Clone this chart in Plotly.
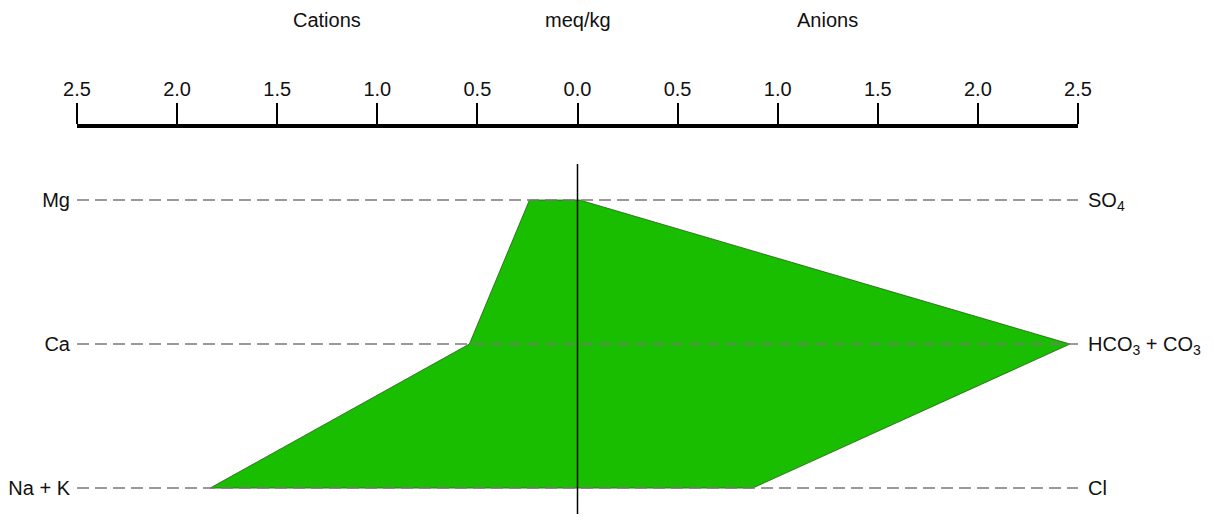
import plotly.graph_objects as go

# ---- data ----
cation_labels = ["Mg", "Ca", "Na + K"]
anion_labels = ["SO<sub>4</sub>", "HCO<sub>3</sub> + CO<sub>3</sub>", "Cl"]
cation_values = [0.24, 0.54, 1.835]   # meq/kg
anion_values = [0.01, 2.46, 0.875]    # meq/kg
row_positions = [0, 1, 2]
tick_values = [-2.5, -2.0, -1.5, -1.0, -0.5, 0.0, 0.5, 1.0, 1.5, 2.0, 2.5]
tick_labels = ["2.5", "2.0", "1.5", "1.0", "0.5", "0.0", "0.5", "1.0", "1.5", "2.0", "2.5"]
header_labels = ["Cations", "meq/kg", "Anions"]
header_positions = [-1.25, 0.0, 1.25]

FONT = "Liberation Sans, Arial, sans-serif"
TXT = "#111111"
FS = 20

fig = go.Figure()

# polygon (cations to the left, anions to the right)
poly_x = [-v for v in cation_values] + anion_values[::-1] + [-cation_values[0]]
poly_y = row_positions + row_positions[::-1] + [row_positions[0]]
fig.add_trace(go.Scatter(
    x=poly_x, y=poly_y, mode="lines", fill="toself",
    fillcolor="#1abe00", line=dict(color="#1f5f10", width=0.8),
    hoverinfo="skip", showlegend=False))

# dashed row guide lines
for r in row_positions:
    fig.add_trace(go.Scatter(
        x=[tick_values[0], tick_values[-1]], y=[r, r], mode="lines",
        line=dict(color="#7a7a7a", width=1.4, dash="12px,6px"),
        hoverinfo="skip", showlegend=False))

# centre line
fig.add_trace(go.Scatter(
    x=[0, 0], y=[-0.25, 2.4], mode="lines",
    line=dict(color="black", width=1.5),
    hoverinfo="skip", showlegend=False))

# invisible trace for right axis
fig.add_trace(go.Scatter(x=[0], y=[0], yaxis="y2", mode="markers",
                         marker=dict(opacity=0), hoverinfo="skip", showlegend=False))

for lab, xp in zip(header_labels, header_positions):
    fig.add_annotation(x=xp, xref="x", y=1.28, yref="paper", text=lab,
                       showarrow=False, xanchor="center", yanchor="middle",
                       font=dict(family=FONT, size=FS, color=TXT))

yrange = [2.18, -0.5]
fig.update_layout(
    width=1198, height=506,
    margin=dict(l=69, r=128, t=120, b=0, pad=0),
    paper_bgcolor="white", plot_bgcolor="white",
    font=dict(family=FONT, size=FS, color=TXT),
    showlegend=False,
    xaxis=dict(range=[-2.5, 2.5], side="top", tickvals=tick_values, ticktext=tick_labels,
               ticks="outside", ticklen=21, tickwidth=1.5, tickcolor="black",
               showline=True, linecolor="black", linewidth=3.5,
               showgrid=False, zeroline=False, ticklabelstandoff=-1,
               tickfont=dict(family=FONT, size=FS, color=TXT)),
    yaxis=dict(range=yrange, tickvals=row_positions, ticktext=cation_labels,
               showgrid=False, zeroline=False, showline=False, ticks="",
               ticklabelstandoff=6,
               tickfont=dict(family=FONT, size=FS, color=TXT)),
    yaxis2=dict(range=yrange, overlaying="y", side="right", tickvals=row_positions,
                ticktext=anion_labels, showgrid=False, zeroline=False, showline=False,
                ticks="", ticklabelstandoff=9,
                tickfont=dict(family=FONT, size=FS, color=TXT)),
)

fig.write_html("out.html")
